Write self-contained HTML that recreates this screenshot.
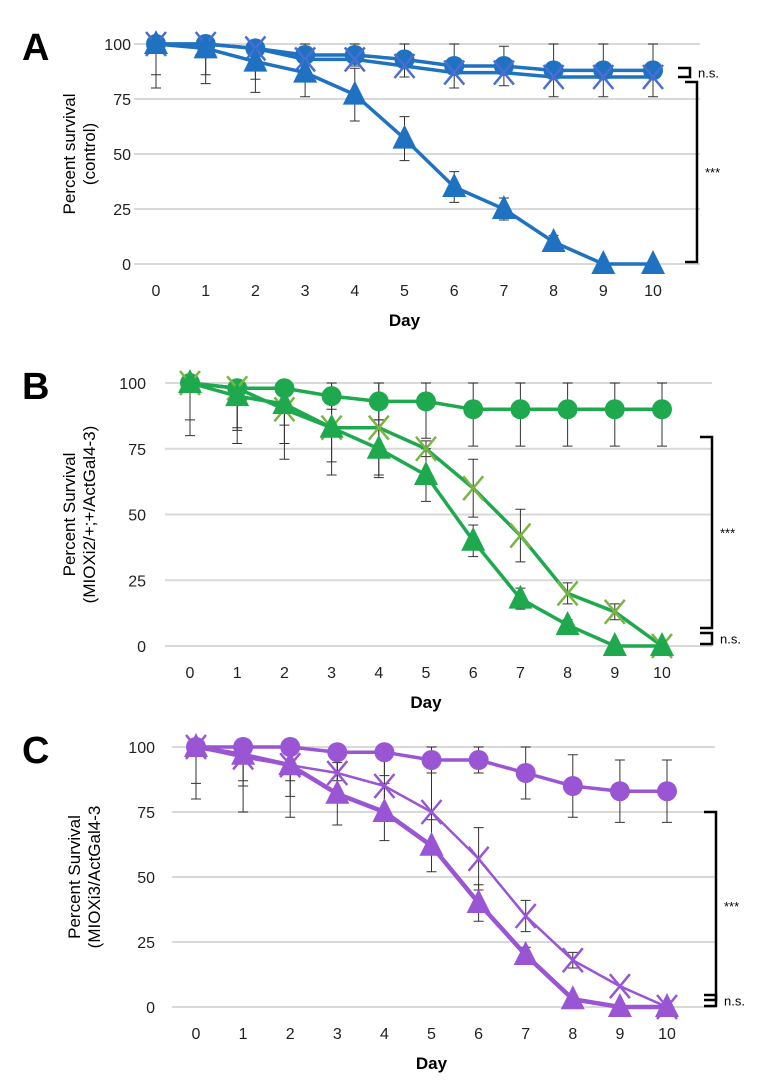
<!DOCTYPE html>
<html><head><meta charset="utf-8"><style>
body{margin:0;background:#fff;width:767px;height:1082px;overflow:hidden}
svg{display:block;font-family:"Liberation Sans",sans-serif}
</style></head><body>
<svg id="fig" width="767" height="1082"></svg>
<script>
const days = [0,1,2,3,4,5,6,7,8,9,10];
const yTicks = [0,25,50,75,100];
const aCircle = [100,100,98,95,95,93,90,90,88,88,88];
const aCross = [100,100,98,93,93,90,87,87,85,85,85];
const aTri = [100,98,92,87,77,57,35,25,10,0,0];
const aCircleErr = [14,14,14,5,5,8,10,9,12,12,12];
const aTriErr = [20,16,14,11,12,10,7,5,3,0,0];
const bCircle = [100,98,98,95,93,93,90,90,90,90,90];
const bCross = [100,98,90,83,83,75,60,42,20,13,0];
const bTri = [100,95,92,83,75,65,40,18,8,0,0];
const bCircleErr = [14,16,14,5,7,14,14,14,14,14,14];
const bCrossErr = [0,15,13,13,18,3,11,10,4,3,0];
const bTriErr = [20,18,21,18,11,10,6,4,2,0,0];
const cCircle = [100,100,100,98,98,95,95,90,85,83,83];
const cCross = [100,96,93,90,85,75,57,35,18,8,0];
const cTri = [100,97,93,82,75,62,40,20,3,0,0];
const cCircleErr = [14,13,13,11,9,5,5,10,12,12,12];
const cCrossErr = [0,11,12,10,13,15,12,6,3,0,0];
const cTriErr = [20,22,20,12,11,10,7,3,0,0,0];

const NS='http://www.w3.org/2000/svg';
const svg=document.getElementById('fig');
function el(tag,attrs,parent,text){const e=document.createElementNS(NS,tag);for(const k in attrs)e.setAttribute(k,attrs[k]);if(text!==undefined)e.textContent=text;(parent||svg).appendChild(e);return e;}

function panel(cfg){
  const g=el('g',{});
  
  
  const xs=d=>cfg.x0+(cfg.x10-cfg.x0)*d/10;
  const ys=v=>cfg.y0+(cfg.y100-cfg.y0)*v/100;
  const lt=el('text',{x:22,y:cfg.y100+16,'font-size':38,'font-weight':'bold'},g,cfg.letter);
  
  
  yTicks.forEach(t=>{
    const gl=el('line',{x1:cfg.gx1,x2:cfg.gx2,y1:ys(t),y2:ys(t),stroke:'#d9d9d9','stroke-width':2},g);
    
    
    const tl=el('text',{x:cfg.tickR,y:ys(t)+6,'font-size':16,'text-anchor':'end',fill:'#222'},g,String(t));
    
    
  });
  days.forEach(d=>{
    const tl=el('text',{x:xs(d),y:cfg.y0+32,'font-size':16,'text-anchor':'middle',fill:'#222'},g,String(d));
    
    
  });
  const xt=el('text',{x:(cfg.x0+cfg.x10)/2,y:cfg.y0+62,'font-size':17,'font-weight':'bold','text-anchor':'middle'},g,'Day');
  
  
  const cy=(cfg.y0+cfg.y100)/2;
  const yt=el('text',{transform:`translate(${cfg.labX},${cy}) rotate(-90)`,'font-size':17,'text-anchor':'middle'},g);
  
  
  el('tspan',{x:0,dy:0},yt,cfg.yl1);
  el('tspan',{x:0,dy:20},yt,cfg.yl2);
  cfg.series.forEach(s=>{
    if(s.err) s.vals.forEach((v,i)=>{
      const e=s.err[i]; if(!e) return;
      const x=xs(days[i]);
      const lo=Math.max(0,v-e),hi=Math.min(100,v+e);
      const eb=el('path',{d:`M${x},${ys(hi)}V${ys(lo)}M${x-5},${ys(hi)}h10M${x-5},${ys(lo)}h10`,stroke:'#333','stroke-width':1,fill:'none'},g);
      
      
    });
  });
  cfg.series.forEach(s=>{
    const pts=s.vals.map((v,i)=>xs(days[i])+','+ys(v)).join(' ');
    const pl=el('polyline',{points:pts,fill:'none',stroke:s.line,'stroke-width':s.lw||3.5},g);
    
    
    s.vals.forEach((v,i)=>{
      const x=xs(days[i]),y=ys(v);let m;
      if(s.shape==='circle') m=el('circle',{cx:x,cy:y,r:10,fill:s.color},g);
      else if(s.shape==='tri') m=el('path',{d:`M${x},${y-14}L${x+12},${y+10}L${x-12},${y+10}Z`,fill:s.color},g);
      else m=el('path',{d:`M${x-10},${y-12}L${x+10},${y+12}M${x+10},${y-12}L${x-10},${y+12}`,stroke:s.color,'stroke-width':2.5},g);
      
      
    });
  });
  cfg.brackets.forEach(b=>{
    const br=el('path',{d:`M${b.x-12},${b.y1}H${b.x}V${b.y2}H${b.x-12}`,stroke:'#000','stroke-width':2.5,fill:'none'},g);
    
    
    const bt=el('text',{x:b.x+8,y:(b.y1+b.y2)/2+5,'font-size':13},g,b.t);
    
    
  });
}

panel({letter:'A',x0:156,x10:653,y100:44,y0:264,gx1:134,gx2:700,tickR:131,labX:75,
  yl1:'Percent survival',yl2:'(control)',
  series:[
    {name:'circle',vals:aCircle,err:aCircleErr,color:'#1f72c2',line:'#1f72c2',shape:'circle'},
    {name:'cross',vals:aCross,err:null,color:'#4a6ed0',line:'#1f72c2',shape:'cross'},
    {name:'triangle',vals:aTri,err:aTriErr,color:'#1f72c2',line:'#1f72c2',shape:'tri'}],
  brackets:[{x:690,y1:68,y2:77,t:'n.s.'},{x:697,y1:82,y2:262,t:'***'}]});

panel({letter:'B',x0:190,x10:662,y100:383,y0:646,gx1:165,gx2:712,tickR:146,labX:75,
  yl1:'Percent Survival',yl2:'(MIOXi2/+;+/ActGal4-3)',
  series:[
    {name:'circle',vals:bCircle,err:bCircleErr,color:'#1fa94e',line:'#1fa94e',shape:'circle'},
    {name:'cross',vals:bCross,err:bCrossErr,color:'#7ab542',line:'#1fa94e',shape:'cross'},
    {name:'triangle',vals:bTri,err:bTriErr,color:'#1fa94e',line:'#1fa94e',shape:'tri'}],
  brackets:[{x:712,y1:437,y2:628,t:'***'},{x:712,y1:633,y2:644,t:'n.s.'}]});

panel({letter:'C',x0:196,x10:667,y100:747,y0:1007,gx1:172,gx2:715,tickR:155,labX:80,
  yl1:'Percent Survival',yl2:'(MIOXi3/ActGal4-3',
  series:[
    {name:'circle',vals:cCircle,err:cCircleErr,color:'#9955d3',line:'#9955d3',shape:'circle'},
    {name:'cross',vals:cCross,err:cCrossErr,color:'#9955d3',line:'#9955d3',shape:'cross',lw:2.5},
    {name:'triangle',vals:cTri,err:cTriErr,color:'#9955d3',line:'#9955d3',shape:'tri',lw:4.5}],
  brackets:[{x:716,y1:812,y2:1000,t:'***'},{x:716,y1:995,y2:1006,t:'n.s.'}]});
</script>
</body></html>
